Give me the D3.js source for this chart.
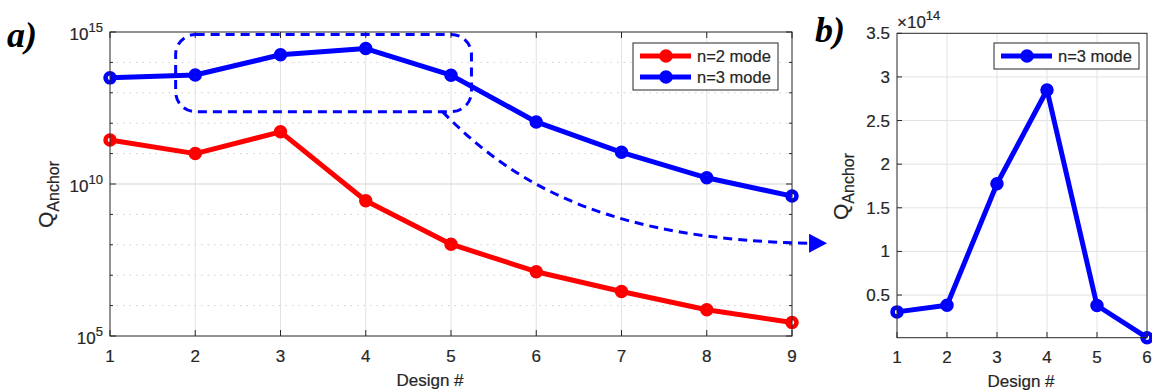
<!DOCTYPE html>
<html>
<head>
<meta charset="utf-8">
<script src="https://cdn.jsdelivr.net/npm/d3@7"></script>
<style>
  body { margin: 0; background: #fff; }
  text { font-family: "Liberation Sans", Arial, Helvetica, sans-serif; fill: #262626; stroke: #262626; stroke-width: 0.2px; }
</style>
</head>
<body>
<div id="chart"></div>
<script>
// data
const designs = [1, 2, 3, 4, 5, 6, 7, 8, 9]
const qN2 = [2.8e11, 1.0e11, 5.2e11, 2.8e9, 1.05e8, 1.3e7, 2.9e6, 7.3e5, 2.8e5]
const qN3 = [3.1e13, 3.85e13, 1.78e14, 2.85e14, 3.8e13, 1.1e12, 1.1e11, 1.6e10, 4.0e9]
const designsB = [1, 2, 3, 4, 5, 6]
const qN3b = [3.07e13, 3.83e13, 1.776e14, 2.85e14, 3.8e13, 1.1e12]
const logTicks = [1e5, 1e10, 1e15]
const linTicksB = [0.5e14, 1e14, 1.5e14, 2e14, 2.5e14, 3e14, 3.5e14]
const legendA = ["n=2 mode", "n=3 mode"]
const legendB = ["n=3 mode"]

const RED = "#ff0000", BLUE = "#0000ff", AXIS = "#262626", GRID = "#e2e2e2"
const FS = 17 // tick / axis label size

const svg = d3.select("#chart").append("svg")
  .attr("width", 1152).attr("height", 391)

// draw one line series with MATLAB-ish ring markers
function draw_series(g, xs, ys, x, y, color) {
  const pts = xs.map((d, i) => [x(d), y(ys[i])])
  g.append("path")
    .attr("d", d3.line()(pts))
    .attr("fill", "none").attr("stroke", color)
    .attr("stroke-width", 5).attr("stroke-linejoin", "round")
  g.selectAll(null).data(pts).join("circle")
    .attr("cx", d => d[0]).attr("cy", d => d[1]).attr("r", 4.5)
    .attr("fill", "none").attr("stroke", color).attr("stroke-width", 4.5)
}

function draw_legend(g, x0, y0, w, labels, colors) {
  const h = labels.length * 21 + 5
  g.append("rect").attr("x", x0).attr("y", y0).attr("width", w).attr("height", h)
    .attr("fill", "#fff").attr("stroke", AXIS).attr("stroke-width", 1)
  labels.forEach((lab, i) => {
    const cy = y0 + 13 + i * 21
    g.append("line").attr("x1", x0 + 7).attr("x2", x0 + 58).attr("y1", cy).attr("y2", cy)
      .attr("stroke", colors[i]).attr("stroke-width", 5)
    g.append("circle").attr("cx", x0 + 33).attr("cy", cy).attr("r", 4.5)
      .attr("fill", "none").attr("stroke", colors[i]).attr("stroke-width", 4.5)
    g.append("text").attr("x", x0 + 64).attr("y", cy + 6)
      .attr("font-size", 16.5).text(lab)
  })
}

// ---------- panel a ----------
function draw_panel_a() {
  const x = d3.scaleLinear().domain([1, 9]).range([110, 792])
  const y = d3.scaleLog().domain([1e5, 1e15]).range([336, 32])
  const g = svg.append("g")
  const decades = d3.range(5, 16).map(e => Math.pow(10, e))

  // grid
  g.selectAll(null).data(designs.slice(1, -1)).join("line")
    .attr("x1", d => x(d)).attr("x2", d => x(d)).attr("y1", 32).attr("y2", 336)
    .attr("stroke", GRID).attr("stroke-width", 1)
  g.selectAll(null).data(decades.filter(d => !logTicks.includes(d))).join("line")
    .attr("x1", 110).attr("x2", 792).attr("y1", d => y(d)).attr("y2", d => y(d))
    .attr("stroke", "#cfcfcf").attr("stroke-width", 1).attr("stroke-dasharray", "1.5,5")
  g.selectAll(null).data([1e10]).join("line")
    .attr("x1", 110).attr("x2", 792).attr("y1", d => y(d)).attr("y2", d => y(d))
    .attr("stroke", GRID).attr("stroke-width", 1.5)

  // ticks (inward, both sides)
  designs.forEach(d => {
    g.append("line").attr("x1", x(d)).attr("x2", x(d)).attr("y1", 336).attr("y2", 330).attr("stroke", AXIS)
    g.append("line").attr("x1", x(d)).attr("x2", x(d)).attr("y1", 32).attr("y2", 38).attr("stroke", AXIS)
  })
  decades.forEach(d => {
    const len = logTicks.includes(d) ? 6 : 3
    g.append("line").attr("x1", 110).attr("x2", 110 + len).attr("y1", y(d)).attr("y2", y(d)).attr("stroke", AXIS)
    g.append("line").attr("x1", 792).attr("x2", 792 - len).attr("y1", y(d)).attr("y2", y(d)).attr("stroke", AXIS)
  })

  // annotation: dashed rounded box and curved arrow
  const ann = g.append("g").attr("stroke", BLUE).attr("fill", "none")
    .attr("stroke-width", 3).attr("stroke-dasharray", "9,6")
  ann.append("rect")
    .attr("x", x(1.77)).attr("y", y(8.3e14))
    .attr("width", x(5.24) - x(1.77)).attr("height", y(2.4e12) - y(8.3e14))
    .attr("rx", 20).attr("ry", 20)
  const p0 = [x(4.9), y(2.4e12)], c1 = [x(5.8), y(6e9)], c2 = [x(6.95), y(1.5e8)], p1 = [x(9.2), y(1.12e8)]
  ann.append("path")
    .attr("d", `M${p0}C${c1} ${c2} ${p1}`)
  g.append("path")
    .attr("d", `M${p1[0]},${p1[1] - 9.5}L${p1[0] + 18},${p1[1]}L${p1[0]},${p1[1] + 9.5}Z`)
    .attr("fill", BLUE)

  draw_series(g, designs, qN2, x, y, RED)
  draw_series(g, designs, qN3, x, y, BLUE)

  // box
  g.append("rect").attr("x", 110).attr("y", 32).attr("width", 682).attr("height", 304)
    .attr("fill", "none").attr("stroke", AXIS).attr("stroke-width", 1)

  draw_legend(g, 633, 43, 145, legendA, [RED, BLUE])

  // tick labels
  g.selectAll(null).data(designs).join("text")
    .attr("x", d => x(d)).attr("y", 362).attr("text-anchor", "middle")
    .attr("font-size", FS).text(d => d)
  logTicks.forEach(d => {
    const t = g.append("text").attr("x", 103).attr("y", y(d) + 8).attr("text-anchor", "end")
      .attr("font-size", FS)
    t.append("tspan").text("10")
    t.append("tspan").attr("dy", -8).attr("font-size", 13).text(Math.round(Math.log10(d)))
  })

  g.append("text").attr("x", 430).attr("y", 386).attr("text-anchor", "middle")
    .attr("font-size", FS).text("Design #")
  const yl = g.append("text").attr("transform", "translate(53,228) rotate(-90)")
    .attr("font-size", 21)
  yl.append("tspan").text("Q")
  yl.append("tspan").attr("dy", 6).attr("font-size", 16).text("Anchor")

  g.append("text").attr("x", 7).attr("y", 47)
    .style("font-family", "'Liberation Serif', 'Times New Roman', serif")
    .style("fill", "#000").style("stroke", "none")
    .attr("font-size", 36).attr("font-weight", "bold").attr("font-style", "italic").text("a)")
}

// ---------- panel b ----------
function draw_panel_b() {
  const x = d3.scaleLinear().domain([1, 6]).range([897, 1147])
  const y = d3.scaleLinear().domain([1.1e12, 3.5e14]).range([337.7, 33.3])
  const g = svg.append("g")

  g.selectAll(null).data(designsB.slice(1, -1)).join("line")
    .attr("x1", d => x(d)).attr("x2", d => x(d)).attr("y1", 33.3).attr("y2", 337.7)
    .attr("stroke", GRID).attr("stroke-width", 1)
  g.selectAll(null).data(linTicksB.slice(0, -1)).join("line")
    .attr("x1", 897).attr("x2", 1147).attr("y1", d => y(d)).attr("y2", d => y(d))
    .attr("stroke", GRID).attr("stroke-width", 1)

  designsB.forEach(d => {
    g.append("line").attr("x1", x(d)).attr("x2", x(d)).attr("y1", 337.7).attr("y2", 332).attr("stroke", AXIS)
  })
  linTicksB.forEach(d => {
    g.append("line").attr("x1", 897).attr("x2", 902).attr("y1", y(d)).attr("y2", y(d)).attr("stroke", AXIS)
  })

  draw_series(g, designsB, qN3b, x, y, BLUE)

  g.append("rect").attr("x", 897).attr("y", 33.3).attr("width", 250).attr("height", 304.4)
    .attr("fill", "none").attr("stroke", AXIS).attr("stroke-width", 1)

  draw_legend(g, 994, 43, 145, legendB, [BLUE])

  g.selectAll(null).data(designsB).join("text")
    .attr("x", d => x(d)).attr("y", 363).attr("text-anchor", "middle")
    .attr("font-size", FS).text(d => d)
  g.selectAll(null).data(linTicksB).join("text")
    .attr("x", 890).attr("y", d => y(d) + 6).attr("text-anchor", "end")
    .attr("font-size", FS).text(d => d3.format("~g")(d / 1e14))
  const ex = g.append("text").attr("x", 897).attr("y", 28).attr("font-size", FS)
  ex.append("tspan").text("\u00d710")
  ex.append("tspan").attr("dy", -8).attr("font-size", 13).text("14")

  g.append("text").attr("x", 1021).attr("y", 387).attr("text-anchor", "middle")
    .attr("font-size", FS).text("Design #")
  const yl = g.append("text").attr("transform", "translate(848,220) rotate(-90)")
    .attr("font-size", 21)
  yl.append("tspan").text("Q")
  yl.append("tspan").attr("dy", 6).attr("font-size", 16).text("Anchor")

  g.append("text").attr("x", 815).attr("y", 42)
    .style("font-family", "'Liberation Serif', 'Times New Roman', serif")
    .style("fill", "#000").style("stroke", "none")
    .attr("font-size", 36).attr("font-weight", "bold").attr("font-style", "italic").text("b)")
}

draw_panel_a()
draw_panel_b()
</script>
</body>
</html>
